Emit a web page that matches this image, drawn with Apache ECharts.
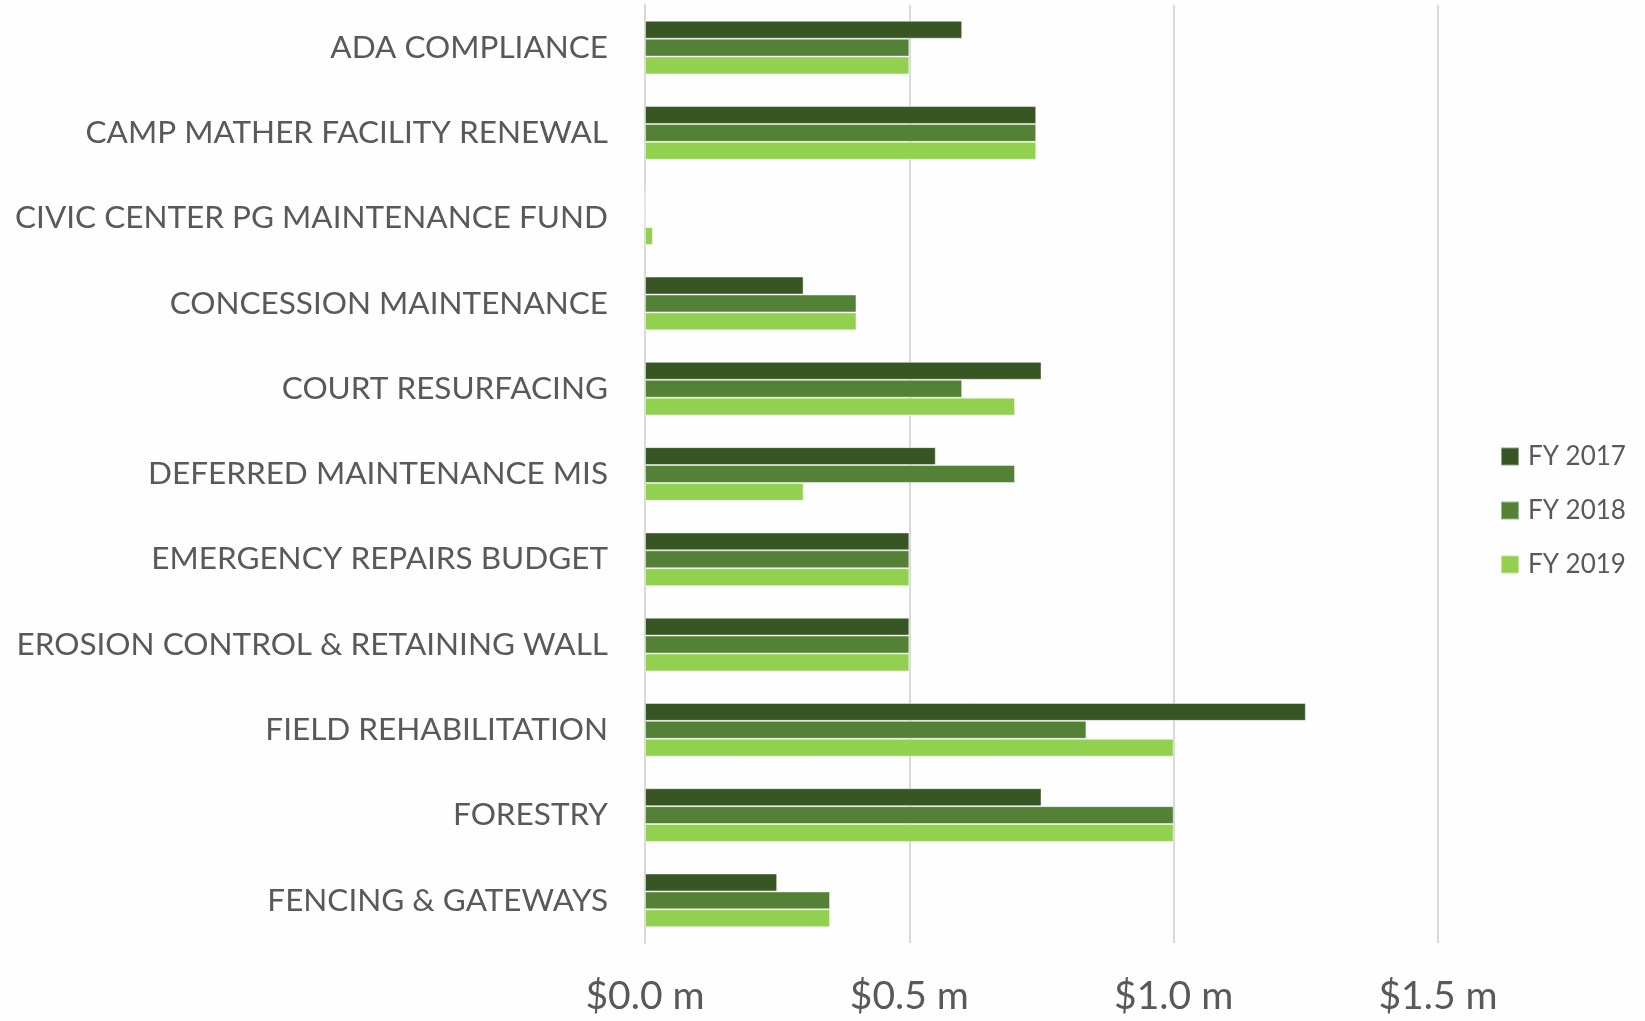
<!DOCTYPE html>
<html>
<head>
<meta charset="utf-8">
<script src="https://cdn.jsdelivr.net/npm/echarts@6/dist/echarts.min.js"></script>
<style>
  html, body { margin: 0; padding: 0; background: #fff; }
  #chart { width: 1645px; height: 1021px; }
</style>
</head>
<body>
<div id="chart"></div>
<script>
// categories, top to bottom
var categories = [
  'ADA COMPLIANCE',
  'CAMP MATHER FACILITY RENEWAL',
  'CIVIC CENTER PG MAINTENANCE FUND',
  'CONCESSION MAINTENANCE',
  'COURT RESURFACING',
  'DEFERRED MAINTENANCE MIS',
  'EMERGENCY REPAIRS BUDGET',
  'EROSION CONTROL & RETAINING WALL',
  'FIELD REHABILITATION',
  'FORESTRY',
  'FENCING & GATEWAYS'
]
// values in $ millions
var fy2017 = [0.6, 0.74, 0, 0.3, 0.75, 0.55, 0.5, 0.5, 1.25, 0.75, 0.25]
var fy2018 = [0.5, 0.74, 0, 0.4, 0.6, 0.7, 0.5, 0.5, 0.835, 1.0, 0.35]
var fy2019 = [0.5, 0.74, 0.015, 0.4, 0.7, 0.3, 0.5, 0.5, 1.0, 1.0, 0.35]
var seriesNames = ['FY 2017', 'FY 2018', 'FY 2019']
var colors = ['#375623', '#538135', '#92d050']

var font = 'Lato'
var chart = echarts.init(document.getElementById('chart'))

function bar(name, data, color) {
  return {
    name: name,
    type: 'bar',
    data: data,
    barGap: '0%',
    barCategoryGap: '37%',
    itemStyle: {
      color: color,
      borderColor: 'rgba(255,255,255,0.45)',
      borderWidth: 1
    },
    animation: false
  }
}

chart.setOption({
  backgroundColor: '#fefefe',
  color: colors,
  grid: {
    left: 645,
    right: 207,
    top: 5,
    bottom: 78
  },
  legend: {
    orient: 'vertical',
    left: 1495,
    top: 'middle',
    itemWidth: 18,
    itemHeight: 18,
    itemGap: 28,
    icon: 'rect',
    textStyle: { color: '#595959', fontSize: 26, fontFamily: font, padding: [0, 0, 0, 4] },
    data: seriesNames
  },
  xAxis: {
    type: 'value',
    min: 0,
    max: 1.5,
    interval: 0.5,
    axisLine: { show: false },
    axisTick: { show: false },
    splitLine: { lineStyle: { color: '#d9d9d9', width: 2 } },
    axisLabel: {
      color: '#595959',
      fontSize: 39,
      fontFamily: font,
      margin: 34,
      formatter: function (v) { return '$' + v.toFixed(1) + ' m' }
    }
  },
  yAxis: {
    type: 'category',
    inverse: true,
    data: categories,
    axisLine: { lineStyle: { color: '#d9d9d9', width: 2 } },
    axisTick: { show: false },
    axisLabel: {
      color: '#595959',
      fontSize: 31.5,
      fontFamily: font,
      margin: 37,
      padding: [4, 0, 0, 0]
    }
  },
  series: [
    bar(seriesNames[0], fy2017, colors[0]),
    bar(seriesNames[1], fy2018, colors[1]),
    bar(seriesNames[2], fy2019, colors[2])
  ]
})
</script>
</body>
</html>
